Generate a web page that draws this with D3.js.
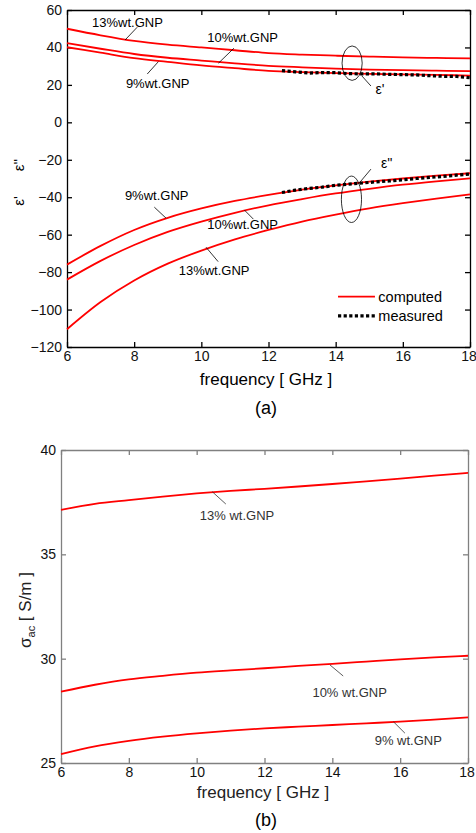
<!DOCTYPE html>
<html>
<head>
<meta charset="utf-8">
<script src="https://cdn.jsdelivr.net/npm/d3@7"></script>
<style>
body { margin: 0; background: #fff; }
svg text { font-family: Arial, "Liberation Sans", sans-serif; }
</style>
</head>
<body>
<script>
// frequency grid of the computed curves (GHz)
var freq = [6, 7, 8, 9, 10, 11, 12, 13, 14, 15, 16, 17, 18];

// eps' (real part), computed
var epsReal9 = [40.1, 37.2, 34.3, 32.3, 30.4, 28.9, 27.5, 26.8, 26.3, 25.9, 25.6, 25.3, 25.0];
var epsReal10 = [42.3, 39.3, 36.5, 34.5, 33.0, 31.5, 30.2, 29.4, 28.7, 28.2, 27.9, 27.6, 27.4];
var epsReal13 = [50.0, 46.5, 43.5, 41.5, 40.0, 38.5, 37.0, 36.2, 35.6, 35.1, 34.7, 34.4, 34.2];

// eps'' (imaginary part), computed
var epsImag9 = [-76.0, -66.0, -57.5, -51.0, -46.0, -42.0, -38.8, -36.0, -33.7, -31.7, -30.0, -28.5, -27.2];
var epsImag10 = [-84.0, -74.0, -65.5, -58.5, -53.0, -48.3, -44.3, -41.0, -38.0, -35.5, -33.3, -31.5, -29.9];
var epsImag13 = [-110.5, -96.0, -84.5, -75.5, -68.5, -62.5, -57.5, -53.0, -49.3, -46.0, -43.2, -40.7, -38.5];

// measured
var measFreq = [12.4, 12.8, 13.2, 13.6, 14.0, 14.4, 14.8, 15.2, 15.6, 16.0, 16.4, 16.8, 17.2, 17.6, 18.0];
var measReal = [27.6, 27.0, 26.3, 26.6, 26.5, 26.0, 25.9, 25.9, 25.6, 25.5, 25.3, 24.9, 24.6, 24.5, 23.8];
var measImag = [-37.5, -36.2, -35.3, -34.6, -33.6, -33.0, -32.4, -31.8, -31.3, -30.7, -30.0, -29.4, -28.9, -28.2, -27.6];

// sigma_ac (S/m)
var sigma9 = [25.43, 25.8, 26.06, 26.26, 26.42, 26.55, 26.66, 26.74, 26.82, 26.9, 26.98, 27.08, 27.19];
var sigma10 = [28.42, 28.75, 29.01, 29.18, 29.33, 29.44, 29.54, 29.65, 29.75, 29.86, 29.97, 30.06, 30.14];
var sigma13 = [37.13, 37.42, 37.6, 37.77, 37.92, 38.04, 38.14, 38.25, 38.37, 38.5, 38.63, 38.77, 38.9];

var freqTicks = [6, 8, 10, 12, 14, 16, 18];
var epsTicks = [-120, -100, -80, -60, -40, -20, 0, 20, 40, 60];
var sigmaTicks = [25, 30, 35, 40];

var svg = d3.select("body").append("svg")
    .attr("width", 476)
    .attr("height", 833);

function pairs(xs, ys) {
    return xs.map(function(v, i) { return [v, ys[i]]; });
}

function drawFrame(x, y, yTicks, col, bp) {
    var g = svg.append("g");
    var x0 = x.range()[0], x1 = x.range()[1];
    var y0 = y.range()[0], y1 = y.range()[1];
    var bottom = g.append("g").attr("transform", "translate(0," + y0 + ")")
        .call(d3.axisBottom(x).tickValues(freqTicks).tickSize(-5).tickSizeOuter(0).tickPadding(bp));
    g.append("g").attr("transform", "translate(0," + y1 + ")")
        .call(d3.axisTop(x).tickValues(freqTicks).tickSize(-5).tickSizeOuter(0).tickFormat(""));
    g.append("g").attr("transform", "translate(" + x0 + ",0)")
        .call(d3.axisLeft(y).tickValues(yTicks).tickSize(-5).tickSizeOuter(0).tickPadding(5));
    g.append("g").attr("transform", "translate(" + x1 + ",0)")
        .call(d3.axisRight(y).tickValues(yTicks).tickSize(-5).tickSizeOuter(0).tickFormat(""));
    g.selectAll("path, line").attr("stroke", col).attr("stroke-width", 1.3);
    g.selectAll("text").attr("fill", "#111").attr("font-size", 14)
        .attr("font-family", "Arial, 'Liberation Sans', sans-serif");
    // keep the last label inside the page
    bottom.selectAll("text").filter(function(d) { return d === 18; }).attr("dx", -1.5);
    return g;
}

function drawCurve(x, y, data, color, width, dash) {
    var line = d3.line()
        .x(function(d) { return x(d[0]); })
        .y(function(d) { return y(d[1]); })
        .curve(dash ? d3.curveLinear : d3.curveMonotoneX);
    var p = svg.append("path").datum(data)
        .attr("d", line)
        .attr("fill", "none")
        .attr("stroke", color)
        .attr("stroke-width", width);
    if (dash) p.attr("stroke-dasharray", dash);
}

function drawNotes(x, y, notes, size, col) {
    notes.forEach(function(n) {
        svg.append("line")
            .attr("x1", x(n.l[0])).attr("y1", y(n.l[1]))
            .attr("x2", x(n.l[2])).attr("y2", y(n.l[3]))
            .attr("stroke", col).attr("stroke-width", 0.8);
        svg.append("text")
            .attr("x", x(n.t[0])).attr("y", y(n.t[1]))
            .attr("dy", "0.35em")
            .attr("text-anchor", "middle")
            .attr("font-size", size)
            .attr("fill", col)
            .text(n.s);
    });
}

// ---------- (a) permittivity ----------
var xa = d3.scaleLinear().domain([6, 18]).range([67, 470]);
var ya = d3.scaleLinear().domain([-120, 60]).range([347, 10]);

drawFrame(xa, ya, epsTicks, "#000", 4);

[epsReal9, epsReal10, epsReal13, epsImag9, epsImag10, epsImag13].forEach(function(s) {
    drawCurve(xa, ya, pairs(freq, s), "#ff0000", 1.8);
});
drawCurve(xa, ya, pairs(measFreq, measReal), "#000", 3.2, "3.2,2.4");
drawCurve(xa, ya, pairs(measFreq, measImag), "#000", 3.2, "3.2,2.4");

drawNotes(xa, ya, [
    { s: "13%wt.GNP", t: [7.80, 53.2], l: [8.09, 50.8, 7.73, 44.0] },
    { s: "10%wt.GNP", t: [11.23, 45.4], l: [10.97, 39.6, 10.51, 31.6] },
    { s: "9%wt.GNP", t: [8.70, 20.9], l: [8.72, 32.4, 8.39, 25.8] },
    { s: "9%wt.GNP", t: [8.67, -38.8], l: [8.60, -45.3, 8.95, -51.2] },
    { s: "10%wt.GNP", t: [11.23, -54.8], l: [11.28, -46.8, 11.55, -51.7] },
    { s: "13%wt.GNP", t: [10.38, -79.0], l: [10.14, -66.7, 10.5, -74.4] }
], 13, "#000");

// ellipses marking eps' and eps''
[[14.49, 31.6, 9.2, "ε'", [14.78, 24.8, 15.05, 19.4], [15.32, 17.8]],
 [14.47, -41.1, 12.4, "ε''", [14.68, -32.9, 15.05, -25.0], [15.52, -21.8]]].forEach(function(e) {
    svg.append("ellipse")
        .attr("cx", xa(e[0])).attr("cy", ya(e[1]))
        .attr("rx", xa(e[0] + 0.3) - xa(e[0]))
        .attr("ry", ya(e[1]) - ya(e[1] + e[2]))
        .attr("fill", "none").attr("stroke", "#000").attr("stroke-width", 0.8);
    svg.append("line")
        .attr("x1", xa(e[4][0])).attr("y1", ya(e[4][1]))
        .attr("x2", xa(e[4][2])).attr("y2", ya(e[4][3]))
        .attr("stroke", "#000").attr("stroke-width", 0.8);
    svg.append("text")
        .attr("x", xa(e[5][0])).attr("y", ya(e[5][1]))
        .attr("dy", "0.35em").attr("text-anchor", "middle")
        .attr("font-size", 14).text(e[3]);
});

// legend
svg.append("line")
    .attr("x1", xa(14.07)).attr("x2", xa(15.17))
    .attr("y1", ya(-93.1)).attr("y2", ya(-93.1))
    .attr("stroke", "#ff0000").attr("stroke-width", 1.8);
svg.append("line")
    .attr("x1", xa(14.07)).attr("x2", xa(15.17))
    .attr("y1", ya(-103.4)).attr("y2", ya(-103.4))
    .attr("stroke", "#000").attr("stroke-width", 3.2).attr("stroke-dasharray", "3.2,2.4");
svg.append("text").attr("x", xa(15.27)).attr("y", ya(-93.1)).attr("dy", "0.35em")
    .attr("font-size", 14.5).text("computed");
svg.append("text").attr("x", xa(15.27)).attr("y", ya(-103.4)).attr("dy", "0.35em")
    .attr("font-size", 14.5).text("measured");

// axis titles
svg.append("text").attr("x", 266).attr("y", 385).attr("text-anchor", "middle")
    .attr("font-size", 17).text("frequency [ GHz ]");
svg.append("text").attr("transform", "translate(24,201) rotate(-90)")
    .attr("text-anchor", "middle").attr("font-size", 15).text("ε'");
svg.append("text").attr("transform", "translate(24,165) rotate(-90)")
    .attr("text-anchor", "middle").attr("font-size", 15).text("ε''");
svg.append("text").attr("x", 266).attr("y", 414).attr("text-anchor", "middle")
    .attr("font-family", "'Liberation Serif', 'Times New Roman', serif")
    .attr("font-size", 18).text("(a)");

// ---------- (b) conductivity ----------
var xb = d3.scaleLinear().domain([6, 18]).range([61, 468]);
var yb = d3.scaleLinear().domain([25, 40]).range([763, 450]);

drawFrame(xb, yb, sigmaTicks, "#808080", 4);

[sigma9, sigma10, sigma13].forEach(function(s) {
    drawCurve(xb, yb, pairs(freq, s), "#ff0000", 1.8);
});

drawNotes(xb, yb, [
    { s: "13% wt.GNP", t: [11.19, 36.87], l: [10.46, 38.0, 10.86, 37.41] },
    { s: "10% wt.GNP", t: [14.51, 28.4], l: [13.93, 29.7, 14.32, 29.17] },
    { s: "9% wt.GNP", t: [16.24, 26.06], l: [15.8, 26.98, 16.14, 26.43] }
], 13, "#333");

svg.append("text").attr("x", 263).attr("y", 798).attr("text-anchor", "middle")
    .attr("font-size", 17).attr("fill", "#222").text("frequency [ GHz ]");
var sl = svg.append("text").attr("transform", "translate(31,610) rotate(-90)")
    .attr("text-anchor", "middle").attr("font-size", 17).attr("fill", "#222");
sl.append("tspan").text("σ");
sl.append("tspan").attr("font-size", 11).attr("dy", 4).text("ac");
sl.append("tspan").attr("dy", -4).text(" [ S/m ]");
svg.append("text").attr("x", 266).attr("y", 826).attr("text-anchor", "middle")
    .attr("font-family", "'Liberation Serif', 'Times New Roman', serif")
    .attr("font-size", 18).text("(b)");
</script>
</body>
</html>
